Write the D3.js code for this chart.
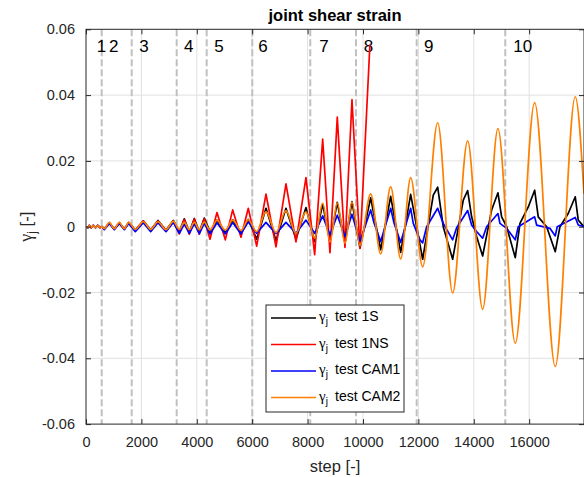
<!DOCTYPE html>
<html>
<head>
<meta charset="utf-8">
<script src="https://cdn.jsdelivr.net/npm/d3@7/dist/d3.min.js"></script>
<style>
body { margin: 0; background: #fff; }
text { font-family: "Liberation Sans", Arial, sans-serif; fill: #262626; }
.greek { font-family: "Liberation Serif", "Times New Roman", serif; }
</style>
</head>
<body>
<div id="chart"></div>
<script>
var xTicks = [0, 2000, 4000, 6000, 8000, 10000, 12000, 14000, 16000];
var yTicks = [-0.06, -0.04, -0.02, 0, 0.02, 0.04, 0.06];
var yTickLabels = ["-0.06", "-0.04", "-0.02", "0", "0.02", "0.04", "0.06"];

// phase boundaries (steps) and phase numbers
var phaseLines = [567, 1650, 3274, 4357, 6004, 8097, 9747, 11939, 15137];
var phaseLabels = ["1", "2", "3", "4", "5", "6", "7", "8", "9", "10"];
var phaseLabelSteps = [386, 830, 1924, 3538, 4632, 6220, 8422, 10025, 12202, 15426];

var seriesNames = ["test 1S", "test 1NS", "test CAM1", "test CAM2"];
var seriesColors = ["#000000", "#ff0000", "#0000ff", "#ff8000"];

var test1S = [[0,0],[72,-0.0003],[119,0.0004],[191,-0.0003],[264,0.0004],[343,-0.0003],[422,0.0004],[505,-0.0003],[578,0],
    [661,-0.0007],[841,0.0012],[1022,-0.0007],[1202,0.0012],[1383,-0.0007],[1541,0.0013],
    [1780,-0.001],[2068,0.0018],[2336,-0.001],[2599,0.0019],[2888,-0.0011],[3152,0.0019],
    [3368,-0.0015],[3549,0.0024],[3729,-0.0016],[3910,0.0025],[4090,-0.0016],[4271,0.0026],
    [4476,-0.0015],[4729,0.002],[5029,-0.0018],[5296,0.0021],[5596,-0.002],[5859,0.0022],
    [6162,-0.0038],[6498,0.0056],[6859,-0.0042],[7220,0.0056],[7581,-0.0038],[7942,0.0058],
    [8256,-0.0045],[8545,0.0069],[8808,-0.0046],[9072,0.0074],[9350,-0.005],[9603,0.0076],
    [9891,-0.0065],[10278,0.0088],[10639,-0.007],[11000,0.0092],[11361,-0.0078],[11722,0.0098],[12155,-0.0099],
    [12538,0.0096],[12697,0.012],[12898,0],[13238,-0.0099],[13621,0.0081],[13779,0.011],[13923,0.003],[14103,-0.003],[14321,-0.0089],
    [14646,0.0051],[14873,0.0103],[15006,0.003],[15187,0],[15498,-0.0094],[15668,0.001],[15968,0.006],[16198,0.0111],
    [16328,0.003],[16631,0],[16942,-0.0076],[17112,0],[17411,0.004],[17664,0.0091],[17772,0.002],[17978,0]];

var test1NS = [[0,0],[72,-0.0003],[119,0.0004],[191,-0.0003],[264,0.0004],[343,-0.0003],[422,0.0004],[505,-0.0003],[578,0],
    [661,-0.0008],[841,0.0012],[1022,-0.0008],[1202,0.0012],[1383,-0.0008],[1541,0.0012],
    [1780,-0.0012],[2068,0.0017],[2336,-0.0012],[2599,0.0017],[2888,-0.0012],[3152,0.0017],
    [3368,-0.0022],[3549,0.0022],[3729,-0.0023],[3910,0.0023],[4090,-0.0023],[4271,0.0024],
    [4476,-0.0038],[4729,0.0043],[5029,-0.004],[5296,0.0051],[5596,-0.0032],[5859,0.0056],
    [6162,-0.0059],[6498,0.0099],[6859,-0.0061],[7220,0.013],[7581,-0.0046],[7942,0.0149],
    [8256,-0.0085],[8545,0.0266],[8808,-0.0079],[9072,0.0333],[9350,-0.0063],[9603,0.0386],
    [9891,-0.0066],[10250,0.0553]];

var testCAM1 = [[0,0],[72,-0.0003],[119,0.0004],[191,-0.0003],[264,0.0004],[343,-0.0003],[422,0.0004],[505,-0.0003],[578,0],
    [661,-0.0009],[841,0.001],[1022,-0.0009],[1202,0.001],[1383,-0.0009],[1541,0.001],
    [1780,-0.0015],[2068,0.0012],[2336,-0.0015],[2599,0.0012],[2888,-0.0015],[3152,0.0013],
    [3368,-0.002],[3549,0.0008],[3729,-0.002],[3910,0.0009],[4090,-0.0021],[4271,0.001],
    [4476,-0.0022],[4729,0.0012],[5029,-0.0022],[5296,0.0013],[5596,-0.0022],[5859,0.0015],
    [6162,-0.002],[6498,0.0013],[6859,-0.0021],[7220,0.0013],[7581,-0.002],[7942,0.002],
    [8256,-0.002],[8545,0.0033],[8808,-0.0025],[9072,0.0035],[9350,-0.003],[9603,0.0038],
    [9891,-0.0045],[10278,0.0051],[10397,0.0012],[10639,-0.0045],[11000,0.0056],[11119,0.0012],[11361,-0.0048],
    [11722,0.0056],[11816,0.001],[12057,-0.004],[12155,-0.0049],
    [12299,0],[12697,0.0056],[12898,0.001],[13238,-0.004],[13382,-0.0003],[13779,0.0049],[13923,0.0005],[14103,-0.0015],[14321,-0.0035],
    [14465,0],[14873,0.004],[14945,0.001],[15187,-0.0005],[15498,-0.004],[15606,0],[16198,0.003],[16270,0.0005],
    [16750,-0.0005],[16942,-0.0028],[17014,0],[17664,0.0028],[17772,0.0005],[17978,0]];

var testCAM2 = [[0,0],[72,-0.0003],[119,0.0004],[191,-0.0003],[264,0.0004],[343,-0.0003],[422,0.0004],[505,-0.0003],[578,0],
    [661,-0.0006],[841,0.0013],[1022,-0.0006],[1202,0.0013],[1383,-0.0006],[1541,0.0013],
    [1780,-0.0008],[2068,0.0015],[2336,-0.0008],[2599,0.0015],[2888,-0.0009],[3152,0.0016],
    [3368,-0.0008],[3549,0.0013],[3729,-0.0009],[3910,0.0013],[4090,-0.0009],[4271,0.0014],
    [4476,-0.001],[4729,0.0019],[5029,-0.001],[5296,0.002],[5596,-0.0011],[5859,0.0021],
    [6162,-0.0015],[6498,0.0046],[6859,-0.0018],[7220,0.0049],[7581,-0.002],[7942,0.0045],
    [8256,-0.0035],[8545,0.0071],[8808,-0.0046],[9072,0.0072],[9350,-0.005],[9603,0.0075],
    [9891,-0.0056],[10278,0.01],[10639,-0.0083],[11000,0.0122],[11361,-0.0098],[11722,0.0149],[12155,-0.0122],
    [12697,0.0316],[13238,-0.0201],[13779,0.0261],[14321,-0.0251],[14873,0.0298],[15498,-0.0354],
    [16198,0.0377],[16942,-0.0425],[17664,0.0395],[17978,0.01]];

var allSeries = [test1S, test1NS, testCAM1, testCAM2];

var pLeft = 86, pRight = 584, pTop = 29.3, pBottom = 424.1;
var width = 584, height = 477;

var x = d3.scaleLinear()
    .domain([0, 17980])
    .range([pLeft, pRight]);

var y = d3.scaleLinear()
    .domain([-0.06, 0.06])
    .range([pBottom, pTop]);

var svg = d3.select("#chart").append("svg")
    .attr("width", width)
    .attr("height", height);

svg.append("defs").append("clipPath").attr("id", "plotClip")
    .append("rect")
    .attr("x", pLeft).attr("y", pTop)
    .attr("width", pRight - pLeft).attr("height", pBottom - pTop);

// grid
svg.append("g").selectAll("line")
    .data(xTicks.slice(1)).enter()
    .append("line")
    .attr("x1", function(d) { return x(d) }).attr("x2", function(d) { return x(d) })
    .attr("y1", pTop).attr("y2", pBottom)
    .style("stroke", "#e0e0e0").style("stroke-width", 1);

svg.append("g").selectAll("line")
    .data(yTicks.slice(1, -1)).enter()
    .append("line")
    .attr("y1", function(d) { return y(d) }).attr("y2", function(d) { return y(d) })
    .attr("x1", pLeft).attr("x2", pRight)
    .style("stroke", "#e0e0e0").style("stroke-width", 1);

// phase boundaries
svg.append("g").selectAll("line")
    .data(phaseLines).enter()
    .append("line")
    .attr("x1", function(d) { return x(d) }).attr("x2", function(d) { return x(d) })
    .attr("y1", pTop).attr("y2", pBottom)
    .style("stroke", "#c0c0c0").style("stroke-width", 2)
    .style("stroke-dasharray", "7,3");

svg.append("g").selectAll("text")
    .data(phaseLabels).enter()
    .append("text")
    .attr("x", function(d, i) { return x(phaseLabelSteps[i]) })
    .attr("y", 52)
    .style("font-size", "17px")
    .style("fill", "#000")
    .text(function(d) { return d });

// curves
var lines = svg.append("g").attr("clip-path", "url(#plotClip)");
allSeries.forEach(function(s, i) {
    var line = d3.line()
	.x(function(d) { return x(d[0]) })
	.y(function(d) { return y(d[1]) })
	.curve(i == 3 ? d3.curveMonotoneX : d3.curveLinear);
    lines.append("path")
	.datum(s)
	.attr("d", line)
	.attr("fill", "none")
	.style("stroke", seriesColors[i])
	.style("stroke-width", 1.7)
	.style("stroke-linejoin", "round");
});

// axes (box with inward ticks)
var axisColor = "#262626";
svg.append("rect")
    .attr("x", pLeft).attr("y", pTop)
    .attr("width", pRight - pLeft).attr("height", pBottom - pTop)
    .attr("fill", "none")
    .style("stroke", axisColor).style("stroke-width", 1);

var xAxis = svg.append("g")
    .attr("transform", "translate(0," + pBottom + ")")
    .call(d3.axisBottom(x).tickValues(xTicks).tickSizeInner(-5).tickSizeOuter(0).tickPadding(13)
	  .tickFormat(function(d) { return "" + d }));
var xAxisTop = svg.append("g")
    .attr("transform", "translate(0," + pTop + ")")
    .call(d3.axisTop(x).tickValues(xTicks).tickSizeInner(-5).tickSizeOuter(0).tickFormat(""));
var yAxis = svg.append("g")
    .attr("transform", "translate(" + pLeft + ",0)")
    .call(d3.axisLeft(y).tickValues(yTicks).tickSizeInner(-5).tickSizeOuter(0).tickPadding(11)
	  .tickFormat(function(d, i) { return yTickLabels[i] }));
var yAxisRight = svg.append("g")
    .attr("transform", "translate(" + pRight + ",0)")
    .call(d3.axisRight(y).tickValues(yTicks).tickSizeInner(-5).tickSizeOuter(0).tickFormat(""));

[xAxis, xAxisTop, yAxis, yAxisRight].forEach(function(a) {
    a.select(".domain").remove();
    a.selectAll("line").style("stroke", axisColor);
    a.selectAll("text")
	.style("font-family", "'Liberation Sans', Arial, sans-serif")
	.style("font-size", "14.5px")
	.style("fill", axisColor);
});

// title and axis labels
svg.append("text")
    .attr("x", (pLeft + pRight) / 2)
    .attr("y", 20.5)
    .attr("text-anchor", "middle")
    .style("font-size", "16.5px")
    .style("font-weight", "bold")
    .style("fill", "#000")
    .text("joint shear strain");

svg.append("text")
    .attr("x", (pLeft + pRight) / 2)
    .attr("y", 472)
    .attr("text-anchor", "middle")
    .style("font-size", "16.5px")
    .text("step [-]");

var yl = svg.append("text")
    .attr("text-anchor", "middle")
    .attr("transform", "translate(32," + ((pTop + pBottom) / 2) + ") rotate(-90)")
    .style("font-size", "16.5px");
yl.append("tspan").attr("class", "greek").style("font-size", "18px").text("\u03b3");
yl.append("tspan").attr("dy", 4).style("font-size", "12px").text("j");
yl.append("tspan").attr("dy", -4).text(" [-]");

// legend
var legend = svg.append("g");
legend.append("rect")
    .attr("x", 266).attr("y", 305)
    .attr("width", 138).attr("height", 107)
    .attr("fill", "#fff")
    .style("stroke", axisColor).style("stroke-width", 1);

seriesNames.forEach(function(name, i) {
    var ly = 318 + i * 26.5;
    legend.append("line")
	.attr("x1", 271).attr("x2", 316)
	.attr("y1", ly).attr("y2", ly)
	.style("stroke", seriesColors[i]).style("stroke-width", 1.7);
    var t = legend.append("text")
	.attr("x", 319).attr("y", ly + 3)
	.style("font-size", "14px")
	.style("fill", "#000");
    t.append("tspan").attr("class", "greek").style("font-size", "15px").text("\u03b3");
    t.append("tspan").attr("dy", 4).style("font-size", "10px").text("j");
    t.append("tspan").attr("x", 335).attr("dy", -4).text(name);
});
</script>
</body>
</html>
